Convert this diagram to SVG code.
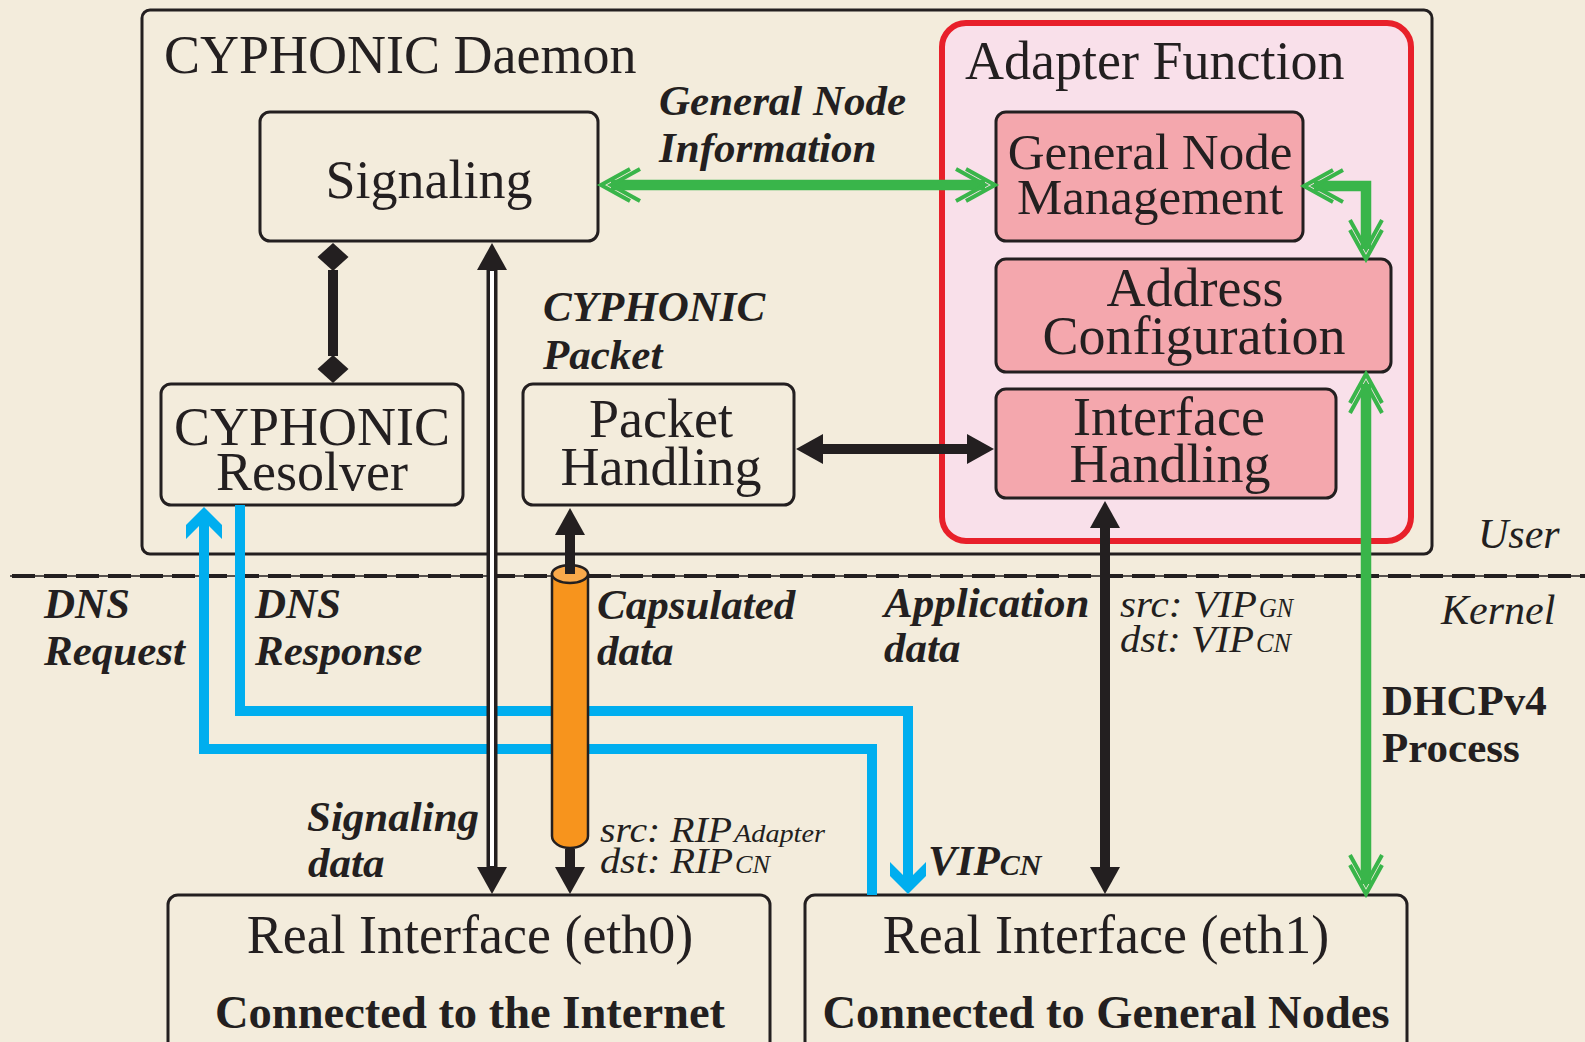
<svg xmlns="http://www.w3.org/2000/svg" width="1585" height="1042" viewBox="0 0 1585 1042">
  <defs>
    <style>
      .t{font-family:"Liberation Serif","Times New Roman",serif;fill:#231f20}
      .node{font-size:54px;text-anchor:middle}
      .gn{font-size:51px;text-anchor:middle}
      .lbl{font-size:43px;font-weight:bold;font-style:italic}
      .bold{font-size:43px;font-weight:bold}
      .con{font-size:46.5px;font-weight:bold;text-anchor:middle}
      .it{font-style:italic}
      .box{fill:none;stroke:#231f20;stroke-width:3}
      .wbox{fill:none;stroke:#231f20;stroke-width:3}
      .pink{fill:#f4a7ad;stroke:#231f20;stroke-width:3}
      .blk{fill:none;stroke:#231f20;stroke-width:10}
      .grn{fill:none;stroke:#39b54a;stroke-width:10.5;stroke-linejoin:miter}
      .blu{fill:none;stroke:#00aeef;stroke-width:10;stroke-linejoin:miter}
    </style>
    <!-- solid triangle head, tip 26 beyond the path end -->
    <marker id="tri" markerUnits="userSpaceOnUse" markerWidth="40" markerHeight="40" orient="auto-start-reverse" overflow="visible" refX="0" refY="0">
      <path d="M26,0 L-1,-15 L-1,15 Z" fill="#231f20"/>
    </marker>
    <!-- diamond head -->
    <marker id="dia" markerUnits="userSpaceOnUse" markerWidth="40" markerHeight="40" orient="auto-start-reverse" overflow="visible" refX="0" refY="0">
      <path d="M-1,0 L13,-15.5 L27,0 L13,15.5 Z" fill="#231f20"/>
    </marker>
    <!-- double open chevron head -->
    <marker id="chev" markerUnits="userSpaceOnUse" markerWidth="40" markerHeight="40" orient="auto-start-reverse" overflow="visible" refX="0" refY="0">
      <path d="M-19,-16 L10,0 L-19,16 M-29,-16 L0,0 L-29,16" fill="none" stroke="#39b54a" stroke-width="4"/>
    </marker>
    <!-- barbed blue head -->
    <marker id="barb" markerUnits="userSpaceOnUse" markerWidth="40" markerHeight="40" orient="auto" overflow="visible" refX="0" refY="0">
      <path d="M32,0 L14,18 L0,18 L13,5 L-2,5 L-2,-5 L13,-5 L0,-18 L14,-18 Z" fill="#00aeef"/>
    </marker>
  </defs>

  <!-- paper -->
  <rect x="0" y="0" width="1585" height="1042" fill="#f3ecdc"/>

  <!-- user / kernel boundary -->
  <g id="boundary">
    <line x1="10" y1="576" x2="1585" y2="576" stroke="#231f20" stroke-width="1.5"/>
    <line x1="12" y1="576" x2="1585" y2="576" stroke="#231f20" stroke-width="4" stroke-dasharray="23 9"/>
  </g>

  <g id="daemon">
    <rect class="box" x="142" y="10" width="1290" height="544" rx="8"/>
  </g>

  <g id="adapter-function">
    <rect x="942" y="23" width="469" height="518" rx="24" fill="#f9e0ea" stroke="#e8202a" stroke-width="6"/>
  </g>

  <g id="signaling">
    <rect class="wbox" x="260" y="112" width="338" height="129" rx="10"/>
  </g>
  <g id="resolver">
    <rect class="wbox" x="161" y="384" width="302" height="121" rx="10"/>
  </g>
  <g id="packet-handling">
    <rect class="wbox" x="523" y="384" width="271" height="121" rx="10"/>
  </g>
  <g id="general-node-management">
    <rect class="pink" x="996" y="112" width="307" height="129" rx="10"/>
  </g>
  <g id="address-configuration">
    <rect class="pink" x="996" y="259" width="395" height="113" rx="10"/>
  </g>
  <g id="interface-handling">
    <rect class="pink" x="996" y="389" width="340" height="109" rx="10"/>
  </g>
  <g id="eth0">
    <rect class="wbox" x="168" y="895" width="602" height="170" rx="10"/>
  </g>
  <g id="eth1">
    <rect class="wbox" x="805" y="895" width="602" height="170" rx="10"/>
  </g>

  <g id="connectors">
    <!-- DNS request / response -->
    <path class="blu" d="M872,895 V749 H204 V539" marker-end="url(#barb)"/>
    <path class="blu" d="M240,505 V711 H908 V862" marker-end="url(#barb)"/>

    <!-- signaling data: hollow double line -->
    <path d="M492,269 V868" fill="none" stroke="#231f20" stroke-width="11" marker-start="url(#tri)" marker-end="url(#tri)"/>
    <path d="M492,271 V866" fill="none" stroke="#ffffff" stroke-width="4"/>

    <!-- encapsulated data tube -->
    <path d="M552,574 V836 A18,12 0 0 0 588,836 V574 Z" fill="#f7941d" stroke="#231f20" stroke-width="2.5"/>
    <ellipse cx="570" cy="574" rx="18" ry="9" fill="#f9a94b" stroke="#231f20" stroke-width="2.5"/>
    <path class="blk" d="M570,574 V534" marker-end="url(#tri)"/>
    <path class="blk" d="M570,849 V868" marker-end="url(#tri)"/>

    <!-- signaling <-> resolver -->
    <path class="blk" d="M333,270 V356" stroke-width="11" marker-start="url(#dia)" marker-end="url(#dia)"/>

    <!-- packet handling <-> interface handling -->
    <path class="blk" d="M822,449 H968" marker-start="url(#tri)" marker-end="url(#tri)"/>

    <!-- interface handling <-> eth1 -->
    <path class="blk" d="M1105,527 V868" marker-start="url(#tri)" marker-end="url(#tri)"/>

    <!-- green management links -->
    <path class="grn" d="M611,185 H985" marker-start="url(#chev)" marker-end="url(#chev)"/>
    <path class="grn" d="M1314,186 H1366 V249" marker-start="url(#chev)" marker-end="url(#chev)"/>
    <path class="grn" d="M1366,384 V884" marker-start="url(#chev)" marker-end="url(#chev)"/>
  </g>

  <!-- box titles -->
  <g id="texts">
    <text class="t" x="164" y="73" font-size="54">CYPHONIC Daemon</text>
    <text class="t" x="965" y="79" font-size="54">Adapter Function</text>

    <text class="t node" x="429" y="198">Signaling</text>
    <text class="t node" x="312" y="445">CYPHONIC</text>
    <text class="t node" x="312" y="490">Resolver</text>
    <text class="t node" x="661" y="437">Packet</text>
    <text class="t node" x="661" y="485">Handling</text>

    <text class="t gn" x="1150" y="169">General Node</text>
    <text class="t gn" x="1150" y="214">Management</text>
    <text class="t node" x="1195" y="306">Address</text>
    <text class="t node" x="1194" y="354">Configuration</text>
    <text class="t node" x="1169" y="435">Interface</text>
    <text class="t node" x="1170" y="482">Handling</text>

    <text class="t node" x="470" y="953">Real Interface (eth0)</text>
    <text class="t con" x="470" y="1028">Connected to the Internet</text>
    <text class="t node" x="1106" y="953">Real Interface (eth1)</text>
    <text class="t con" x="1106" y="1028">Connected to General Nodes</text>

    <!-- connector labels -->
    <text class="t lbl" x="659" y="115">General Node</text>
    <text class="t lbl" x="659" y="162">Information</text>
    <text class="t lbl" x="543" y="321">CYPHONIC</text>
    <text class="t lbl" x="543" y="369">Packet</text>
    <text class="t lbl" x="44" y="618">DNS</text>
    <text class="t lbl" x="44" y="665">Request</text>
    <text class="t lbl" x="255" y="618">DNS</text>
    <text class="t lbl" x="255" y="665">Response</text>
    <text class="t lbl" x="597" y="619">Capsulated</text>
    <text class="t lbl" x="597" y="665">data</text>
    <text class="t lbl" x="884" y="617">Application</text>
    <text class="t lbl" x="884" y="662">data</text>
    <text class="t lbl" x="307" y="831">Signaling</text>
    <text class="t lbl" x="308" y="877">data</text>
    <text class="t lbl" x="928" y="875">VIP<tspan font-size="30">CN</tspan></text>
    <text class="t bold" x="1382" y="715">DHCPv4</text>
    <text class="t bold" x="1382" y="762">Process</text>

    <text class="t it" x="1478" y="548" font-size="42">User</text>
    <text class="t it" x="1441" y="624" font-size="42">Kernel</text>

    <text class="t it" x="1120" y="617" font-size="37" textLength="137" lengthAdjust="spacingAndGlyphs">src: VIP</text>
    <text class="t it" x="1259" y="617" font-size="27" textLength="34" lengthAdjust="spacingAndGlyphs">GN</text>
    <text class="t it" x="1120" y="652" font-size="37" textLength="134" lengthAdjust="spacingAndGlyphs">dst: VIP</text>
    <text class="t it" x="1256" y="652" font-size="27" textLength="35" lengthAdjust="spacingAndGlyphs">CN</text>

    <text class="t it" x="600" y="842" font-size="36" textLength="132" lengthAdjust="spacingAndGlyphs">src: RIP</text>
    <text class="t it" x="734" y="842" font-size="26" textLength="91" lengthAdjust="spacingAndGlyphs">Adapter</text>
    <text class="t it" x="600" y="873" font-size="36" textLength="133" lengthAdjust="spacingAndGlyphs">dst: RIP</text>
    <text class="t it" x="735" y="873" font-size="26" textLength="35" lengthAdjust="spacingAndGlyphs">CN</text>
  </g>
</svg>
